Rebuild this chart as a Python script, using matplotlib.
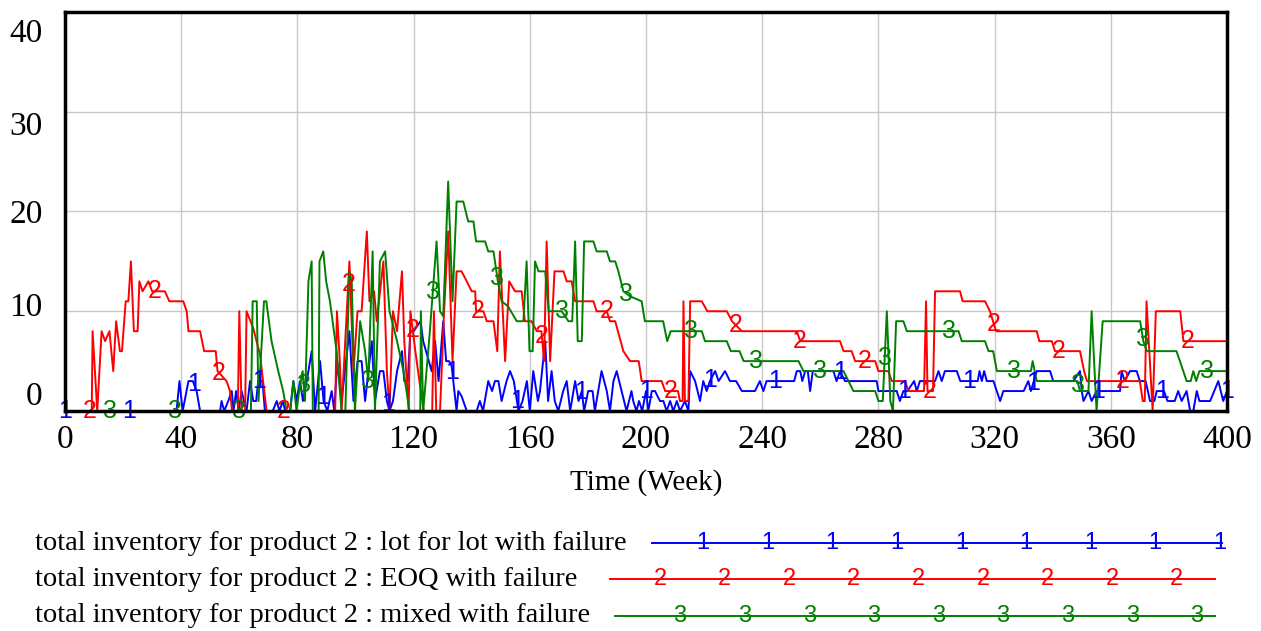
import numpy as np
import matplotlib
matplotlib.use("Agg")
import matplotlib.pyplot as plt
import matplotlib.transforms as mtransforms
from matplotlib.lines import Line2D

# --- data (week, value) ---
lfl_t = [0, 38.4, 39.4, 40.5, 42.5, 44.0, 45.3, 46.5, 53.4, 53.9, 54.8, 56.2, 57.4, 58.0, 58.9, 59.8,
         60.8, 61.6, 62.5, 63.7, 64.8, 65.8, 66.5, 68.0, 68.8, 71.5, 72.9, 73.8, 75.0, 75.8, 77.5,
         78.6, 79.7, 80.9, 81.9, 83.8, 84.9, 86.1, 87.8, 89.0, 90.3, 91.8, 92.7, 93.7, 95.2, 97.9,
         99.3, 100.7, 102.1, 103.3, 105.6, 106.7, 108.4, 109.6, 110.8, 111.7, 112.9, 114.3, 116.0,
         116.8, 118.0, 118.9, 120.0, 122.4, 123.3, 126.2, 127.4, 128.6, 130.2, 131.2, 132.2, 133.1,
         134.8, 135.4, 136.5, 138.3, 141.7, 142.8, 143.9, 145.7, 147.0, 148.0, 149.2, 150.3, 152.0,
         153.2, 154.5, 156.1, 157.5, 159.0, 160.0, 161.2, 162.8, 163.5, 165.3, 166.3, 167.5, 168.6,
         169.8, 171.5, 172.7, 173.9, 175.6, 176.8, 177.9, 178.7, 180.1, 181.6, 182.4, 184.7, 186.5,
         187.6, 188.8, 189.9, 191.6, 193.3, 195.0, 195.6, 196.7, 197.6, 198.7, 200.0, 200.8, 202.0,
         203.1, 204.8, 206.0, 207.1, 208.3, 209.4, 210.6, 211.7, 213.4, 214.6, 215.2, 216.9, 218.6,
         219.7, 220.9, 222.0, 223.8, 225.0, 227.2, 228.9, 231.0, 233.0, 237.5, 239.2, 240.4, 241.5,
         251.0, 251.9, 253.1, 253.8, 254.8, 255.7, 256.5, 257.4, 264.5, 265.6, 266.8, 268.5, 279.4,
         280.0, 286.3, 287.4, 288.6, 290.0, 292.3, 293.2, 294.3, 299.5, 300.7, 301.8, 302.9, 307.0,
         308.2, 314.2, 314.8, 315.6, 316.4, 317.3, 319.6, 321.9, 323.0, 330.0, 331.6, 332.5, 333.5,
         334.5, 339.1, 340.2, 347.1, 349.4, 350.0, 350.6, 352.3, 353.4, 355.1, 363.2, 363.7, 364.8,
         366.6, 368.9, 370.0, 372.0, 373.5, 375.0, 375.8, 378.3, 379.5, 382.0, 383.2, 384.4, 386.1,
         387.3, 388.4, 389.6, 390.5, 394.2, 397.0, 398.7, 400]
lfl_v = [0, 0, 3, 0, 3, 3, 2, 0, 0, 1, 0, 1, 2, 0, 2, 0,
         2, 1, 0, 3, 1, 1, 3, 3, 0, 0, 1, 0, 1, 0, 0,
         3, 1, 3, 1, 4, 6, 0, 5, 1, 0, 2, 0, 5, 1, 8,
         1, 5, 5, 1, 7, 1, 4, 4, 1, 0, 1, 4, 6,
         3, 3, 8, 8, 9, 7, 4, 7, 3, 9, 5, 5, 4.5,
         0, 2, 1.5, 0, 0, 1, 0, 3, 2, 3, 3, 1, 3,
         4, 3, 0, 1, 3, 0, 4, 1, 2, 7, 1, 4, 1,
         0, 2, 3, 0, 3, 1, 2, 0, 2, 2, 0, 4, 2,
         0, 3, 4, 2, 0, 2, 1, 0, 1, 0, 2, 0, 2,
         2, 1, 1, 0, 1, 0, 1, 0, 1, 0, 4, 3, 1,
         3, 2, 3, 4, 3, 4, 3, 3, 2, 2, 3, 2, 3,
         3, 4, 4, 3, 4, 4, 2, 4, 4, 3, 4, 3, 3,
         2, 2, 1, 2, 2, 3, 2, 3, 3, 4, 3, 4, 4,
         3, 3, 4, 3, 4, 3, 3, 1, 2, 2, 3, 2, 3,
         4, 4, 3, 3, 4, 2, 1, 2, 1, 2, 2, 4, 3,
         4, 4, 3, 3, 1, 1, 2, 2, 1, 1, 2, 1, 2,
         0, 0, 2, 1, 1, 3, 1, 2]

eoq_t = [0, 9.2, 9.5, 11.1, 12.6, 13.8, 15.3, 16.6, 17.6, 18.9, 19.6, 20.9, 21.8, 22.7, 23.7, 25.0,
         25.6, 26.7, 28.7, 30.0, 34.4, 35.9, 40.7, 41.9, 42.5, 46.5, 47.9, 51.9, 52.5, 55.6, 56.8,
         57.5, 59.5, 60.0, 60.8, 62.0, 62.5, 64.8, 67.1, 69.4, 93.0, 93.6, 94.6, 95.2, 97.9, 99.3,
         100.7, 102.1, 103.9, 104.8, 106.4, 107.3, 109.6, 110.8, 111.7, 112.9, 114.3, 116.0, 116.8,
         118.3, 118.9, 120.6, 122.0, 123.5, 126.4, 127.0, 127.8, 129.1, 130.5, 131.9, 133.4, 134.8,
         136.5, 138.3, 140.0, 141.2, 141.5, 144.0, 145.2, 147.5, 148.8, 149.7, 151.5, 152.9, 154.9,
         157.2, 158.3, 160.6, 162.4, 164.0, 164.9, 165.8, 167.0, 168.5, 171.6, 172.7, 174.4, 175.6,
         181.9, 183.0, 186.5, 187.6, 189.4, 192.2, 194.5, 197.5, 198.5, 205.4, 206.6, 211.0, 211.7,
         212.6, 212.9, 213.4, 214.6, 215.2, 219.2, 221.1, 227.8, 229.6, 233.0, 251.9, 253.1, 266.8,
         268.0, 270.8, 272.0, 278.9, 280.0, 283.4, 284.6, 289.2, 290.3, 295.7, 296.4, 296.9, 298.8,
         299.5, 308.1, 309.0, 316.7, 318.4, 320.5, 334.5, 335.4, 339.7, 340.8, 349.4, 350.8, 351.8,
         370.0, 371.0, 371.7, 372.3, 374.4, 375.5, 383.9, 385.0, 400]
eoq_v = [0, 0, 8, 0, 8, 7, 8, 4, 9, 6, 6, 11, 11, 15, 8, 8,
         13, 12, 13, 12, 12, 11, 11, 10, 8, 8, 6, 6, 4, 3, 2,
         0, 0, 10, 0, 0, 10, 8.3, 5.7, 0, 0, 10, 5, 0, 15, 4,
         10, 10, 18, 11, 12, 9, 15, 4, 0, 10, 8, 14, 7,
         0, 10, 6, 3, 0, 0, 10, 0, 0, 10, 18, 5, 14,
         14, 13, 12, 12, 10, 10, 9, 9, 6, 16, 5, 13, 12,
         12, 9, 9, 8, 8, 5, 17, 5, 14, 14, 13, 13, 11,
         11, 10, 10, 9, 9, 6, 5, 5, 3, 3, 2, 2, 1,
         1, 11, 1, 1, 11, 11, 10, 10, 9, 8, 8, 7, 7,
         6, 6, 5, 5, 4, 4, 3, 3, 2, 2, 11, 2, 2,
         12, 12, 11, 11, 10, 8, 8, 7, 7, 6, 6, 4, 3,
         3, 1, 1, 11, 0, 10, 10, 7, 7]

mix_t = [0, 64.0, 64.6, 66.0, 66.6, 68.5, 69.3, 71.1, 73.4, 75.1, 76.3, 77.5, 78.6, 79.7, 80.6, 81.8,
         82.6, 83.8, 84.9, 85.3, 87.3, 87.6, 88.9, 89.9, 91.2, 93.5, 95.2, 96.5, 97.9, 98.7, 99.8,
         101.6, 103.3, 104.4, 105.9, 106.7, 108.4, 110.2, 111.7, 114.3, 116.5, 118.6, 122.3, 122.5,
         123.3, 125.6, 127.9, 129.1, 130.2, 131.9, 133.4, 134.8, 137.1, 138.8, 140.6, 141.5, 144.6,
         145.7, 147.5, 149.0, 150.3, 152.5, 155.5, 157.8, 158.9, 159.9, 161.0, 161.8, 163.0, 165.3,
         166.5, 168.7, 171.0, 173.3, 174.6, 175.6, 176.5, 177.9, 178.7, 181.9, 183.0, 186.5, 187.6,
         189.4, 190.5, 192.2, 194.5, 198.5, 199.6, 205.9, 207.3, 208.5, 219.2, 220.3, 227.8, 229.2,
         232.2, 233.6, 252.5, 254.2, 268.0, 271.4, 278.9, 280.0, 281.5, 282.9, 284.1, 285.0, 286.1,
         288.6, 289.8, 307.6, 308.7, 316.7, 317.9, 319.5, 320.8, 332.5, 333.1, 334.5, 348.5, 349.4,
         352.3, 353.4, 355.1, 357.2, 370.1, 371.2, 372.4, 382.6, 383.8, 386.1, 387.5, 388.4, 389.4,
         390.5, 400]
mix_v = [0, 0, 11, 11, 1, 11, 11, 7, 4, 2, 0, 0, 3, 0, 2, 4,
         1, 13, 15, 0, 0, 15, 16, 13, 11, 6, 0, 0, 14, 13, 0,
         9, 6, 3, 16, 0, 15, 16, 10, 7, 4, 0, 0, 10,
         0, 8, 17, 10, 9.5, 23, 11, 21, 21, 19, 19, 17, 17,
         16, 16, 13, 11, 10.5, 9, 9, 15, 6, 6, 15, 14, 14,
         10, 10, 10, 9, 9, 17, 7, 7, 17, 17, 16, 16, 15,
         15, 14, 12, 11.5, 11, 9, 9, 7, 8, 8, 7, 7, 6,
         6, 5, 5, 4, 4, 2, 2, 1, 1, 10, 1, 0, 9,
         9, 8, 8, 7, 7, 6, 6, 4, 4, 5, 3, 3, 2,
         2, 10, 0, 9, 9, 7, 6, 6, 5, 3, 3, 4, 3,
         4, 4]

series = [
    (lfl_t, lfl_v, "#0000ff", "1", 0.0, "total inventory for product 2 : lot for lot with failure"),
    (eoq_t, eoq_v, "#ff0000", "2", 8.6, "total inventory for product 2 : EOQ with failure"),
    (mix_t, mix_v, "#008000", "3", 15.5, "total inventory for product 2 : mixed with failure"),
]
x_ticks = [0, 40, 80, 120, 160, 200, 240, 280, 320, 360, 400]
y_ticks = [0, 10, 20, 30, 40]
label_step = 400 / 18

serif = "Liberation Serif"
sans = "Liberation Sans"

fig = plt.figure(figsize=(12.61, 6.31), dpi=100)
ax = fig.add_axes([65 / 1261, 1 - 411 / 631, (1227 - 65) / 1261, (411 - 12) / 631])

for t, v, col, num, off, name in series:
    ax.plot(t, v, color=col, lw=1.4, zorder=3)
    lt = np.arange(off, 400.01, label_step)
    ly = np.interp(lt, t, v)
    for a, b in zip(lt, ly):
        ax.text(a, b, num, color=col, fontsize=18, family=sans,
                ha="center", va="center", zorder=4)

ax.set_xlim(0, 400)
ax.set_ylim(0, 40)
ax.set_xticks(x_ticks)
ax.set_yticks(y_ticks)
ax.grid(True, color="#c8c8c8", lw=1)
ax.set_axisbelow(True)
for s in ax.spines.values():
    s.set_linewidth(2.5)
    s.set_zorder(5)
ax.tick_params(length=0, labelsize=24)
ax.tick_params(axis="x", pad=10)
ax.tick_params(axis="y", pad=16)
for lab in ax.get_xticklabels() + ax.get_yticklabels():
    lab.set_family(serif)

# Vensim spreads the y labels a little inside the axis range
shifts = [13, 5, 0, -8, -13]
for lab, dy in zip(ax.get_yticklabels(), shifts):
    lab.set_transform(lab.get_transform() +
                      mtransforms.ScaledTranslation(0, dy / 72, fig.dpi_scale_trans))

ax.set_xlabel("Time (Week)", family=serif, fontsize=21, labelpad=10)

# legend rows
rows = [(543, 652, 1222, 703), (579, 610, 1215, 660), (616, 615, 1215, 680)]
for (y, x0, x1, first), (t, v, col, num, off, name) in zip(rows, series):
    yf = 1 - y / 631
    fig.text(35 / 1261, yf, name, family=serif, fontsize=20.5, va="center", ha="left")
    fig.add_artist(Line2D([x0 / 1261, x1 / 1261], [yf, yf], color=col, lw=1.4,
                          transform=fig.transFigure))
    for k in range(9):
        fig.text((first + 64.6 * k) / 1261, yf, num, color=col, fontsize=17,
                 family=sans, ha="center", va="center")

fig.savefig("out.png", dpi=100)
